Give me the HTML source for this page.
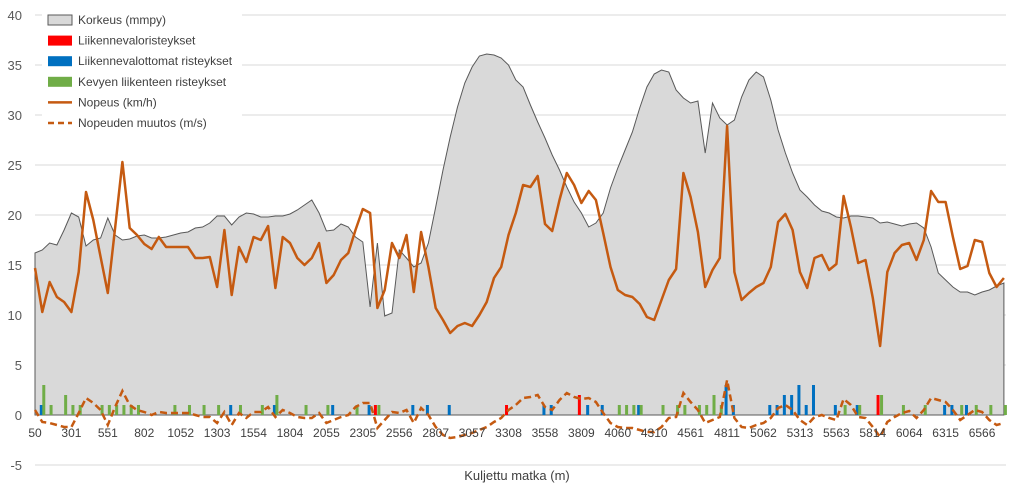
<!DOCTYPE html>
<html><head><meta charset="utf-8"><style>
html,body{margin:0;padding:0;background:#fff;}
svg{display:block;font-family:"Liberation Sans",sans-serif;}
</style></head><body>
<svg id="chart" width="1024" height="497"></svg>
<script>
const heights=[16.2,16.5,17.2,17,18.5,20.2,19.8,16.9,17.5,17.7,19.7,18,17.5,17.6,17.9,18,17.7,17.7,17.8,18,18.2,18.3,18.7,18.8,19.2,19.9,19.9,19,19.8,20.2,20.1,19.8,19.8,19.9,19.9,20.1,20.5,21,21.5,20.2,18.4,18.5,19.1,18.8,17.8,17.3,10.8,17.2,9.9,10.2,16.5,15.7,14.8,15.2,17.2,20.8,24.5,27.8,30.8,33.2,34.8,35.9,36.1,36,35.7,35,33.5,32.8,31,29.3,27.7,26,24.5,22.8,21.3,20.2,18.8,19.2,20.2,22.7,24.7,26.5,28.3,30.7,32.8,34.1,34.5,34.3,32.5,31.7,31.2,31.4,26.2,31.2,29.7,29,29.5,31.8,33.5,34.3,33.8,31.5,28.5,26.2,24.2,22.5,21.8,21,20.4,20.2,19.8,19.7,19.9,19.9,19.8,19.7,19.2,19.3,19.1,18.9,19.1,19.2,18.7,16.8,14.2,13.5,12.8,12.3,12.3,12,12.3,12.5,12.9,13.2];
const speeds=[14.7,10.3,13.3,11.8,11.3,10.3,14.3,22.3,19.5,15.8,12.2,18.7,25.3,18.7,18,17.1,16.6,17.8,16.8,16.8,16.8,16.8,15.7,15.7,15.8,12.8,18.5,12,16.8,15.3,17.8,17.5,18.9,12.7,17.8,17.2,15.7,15,15.7,17.2,13.2,14,15.5,16.2,18.5,20.6,20.2,10.7,12.5,17.2,15.7,18,12.3,18.3,14.8,10.7,9.5,8.2,8.9,9.2,8.9,10,11.3,13.7,14.8,18,20.2,23,22.8,23.9,19.1,18.4,21.5,24.2,23,21.2,22.4,21.5,18.2,14.8,12.5,12,11.8,11.1,9.8,9.5,11.5,13.5,14.6,24.2,21.8,18.3,12.8,14.5,15.7,28.9,14.3,11.5,12.2,12.8,13.2,14.8,19.3,20.1,18.5,14.3,12.7,15.7,16,14.5,15.1,21.9,18.8,15.2,15.5,11.7,6.9,14.3,16.2,17,17.2,15.5,17.5,22.4,21.3,21.3,17.8,14.6,14.9,17.5,17.3,14.2,12.8,13.7];
const speedChange=[0.5,-0.7,-0.8,-1,-1.2,-1.2,0.2,1.7,1.2,0.5,-1,0.8,2.4,1,0.5,0.3,0,0.3,0.2,0.2,0.2,0.2,0,-0.2,-0.2,-0.8,0.3,-1,0.2,-0.3,0.3,0.3,0.8,-0.2,0.5,0.2,-0.2,-0.3,-0.3,0.2,-0.8,-0.5,-0.2,0,0.8,1.2,1.2,-1.3,-0.5,0.3,0.2,0.5,-0.8,0.7,0,-1.2,-2,-2.3,-2.2,-2,-1.8,-1.5,-1.2,-0.7,-0.3,0.5,1,1.7,1.8,2,0.8,0.5,1.5,2.2,1.8,1.6,1.7,1.3,0.2,-0.8,-1.2,-1.3,-1.3,-1.5,-1.7,-1.7,-1.2,-0.3,-0.2,2.2,1.3,0.5,-0.8,-0.5,-0.2,3.5,-0.3,-1.2,-1.3,-1,-0.8,-0.3,0.7,1,0.5,-0.5,-1,-0.2,0,-0.3,-0.5,1.6,1,-0.2,-0.3,-1.2,-2.2,-0.7,-0.2,0.2,0.4,-0.3,0.5,1.7,1.5,1.3,0.5,-0.5,0,0.5,0.3,-0.5,-1,-0.8];
const redIdx=[47,65,75,116];
const redVal=[1,1,2,2];
const blueIdx=[1,27,33,41,46,52,54,57,70,71,76,78,83,95,96,101,102,103,104,105,106,107,110,113,125,126,128];
const blueVal=[1,1,1,1,1,1,1,1,1,1,1,1,1,3,1,1,1,2,2,3,1,3,1,1,1,1,1];
const greenIdx=[1,2,4,5,6,9,10,11,12,13,14,19,21,23,25,28,31,33,37,40,44,47,80,81,82,83,86,88,89,91,92,93,94,111,113,116,119,122,127,129,131,133];
const greenVal=[3,1,2,1,1,1,1,1,1,1,1,1,1,1,1,1,1,2,1,1,1,1,1,1,1,1,1,1,1,1,1,2,1,1,1,2,1,1,1,1,1,1];
const xTickLabels=["50","301","551","802","1052","1303","1554","1804","2055","2305","2556","2807","3057","3308","3558","3809","4060","4310","4561","4811","5062","5313","5563","5814","6064","6315","6566"];
const yTicks=[-5,0,5,10,15,20,25,30,35,40];

const NS="http://www.w3.org/2000/svg";
const svg=document.getElementById('chart');
const X0=35,STEP=7.285;
function xs(i){return X0+STEP*i;}
function ys(v){return 415-10*v;}
function mk(tag,attrs,parent){const e=document.createElementNS(NS,tag);for(const k in attrs)e.setAttribute(k,attrs[k]);(parent||svg).appendChild(e);return e;}

// gridlines + y labels
yTicks.forEach(t=>{
  const g=mk('line',{x1:X0,x2:1006,y1:ys(t),y2:ys(t),stroke:'#d9d9d9','stroke-width':1});
  
  
  const l=mk('text',{x:22,y:ys(t)+5,'text-anchor':'end','font-size':13,fill:'#595959'});
  l.textContent=t;
  
  
});

// area
let d='M'+xs(0)+','+ys(0);
heights.forEach((h,i)=>{d+=' L'+xs(i).toFixed(1)+','+ys(h).toFixed(1);});
d+=' L'+xs(heights.length-1)+','+ys(0)+' Z';
const area=mk('path',{d:d,fill:'#d9d9d9',stroke:'#595959','stroke-width':1});



// bars
function bars(idx,val,off,color,name){
  idx.forEach((ix,k)=>{
    const b=mk('rect',{x:xs(ix)+off-1.5,y:ys(val[k]),width:3,height:10*val[k],fill:color});
    
    
  });
}
bars(redIdx,redVal,-2,'#ff0000','liikennevalo-bar');
bars(blueIdx,blueVal,-1,'#0070c0','valoton-bar');
bars(greenIdx,greenVal,1.5,'#70ad47','kevyt-bar');

// lines
function line(vals,attrs,name){
  const pts=vals.map((v,i)=>xs(i).toFixed(1)+','+ys(v).toFixed(1)).join(' ');
  const p=mk('polyline',Object.assign({points:pts,fill:'none'},attrs));
  
  
}
line(speedChange,{stroke:'#c55a11','stroke-width':2.5,'stroke-dasharray':'7,4'},'nopeuden-muutos-line');
line(speeds,{stroke:'#c55a11','stroke-width':2.5,'stroke-linejoin':'round'},'nopeus-line');

// x labels
xTickLabels.forEach((t,k)=>{
  const l=mk('text',{x:xs(k*5),y:437,'text-anchor':'middle','font-size':12,fill:'#404040'});
  l.textContent=t;
  
  
});
const xt=mk('text',{x:517,y:480,'text-anchor':'middle','font-size':13,fill:'#404040'});
xt.textContent='Kuljettu matka (m)';



// legend
const lg=mk('g',{});


mk('rect',{x:42,y:8,width:200,height:150,fill:'#fff'},lg);
const entries=[
 ['Korkeus (mmpy)','box','#d9d9d9'],
 ['Liikennevaloristeykset','box','#ff0000'],
 ['Liikennevalottomat risteykset','box','#0070c0'],
 ['Kevyen liikenteen risteykset','box','#70ad47'],
 ['Nopeus (km/h)','line','#c55a11'],
 ['Nopeuden muutos (m/s)','dash','#c55a11']];
entries.forEach((e,k)=>{
  const y=20+k*20.6;
  const g=mk('g',{},lg);
  
  
  if(e[1]==='box') mk('rect',{x:48,y:y-5,width:24,height:10,fill:e[2],stroke:k===0?'#595959':'none','stroke-width':1},g);
  else mk('line',{x1:48,x2:72,y1:y,y2:y,stroke:e[2],'stroke-width':2.5,'stroke-dasharray':e[1]==='dash'?'6,4':'none'},g);
  const t=mk('text',{x:78,y:y+4,'font-size':12,fill:'#404040'},g);
  t.textContent=e[0];
});
</script>
</body></html>
